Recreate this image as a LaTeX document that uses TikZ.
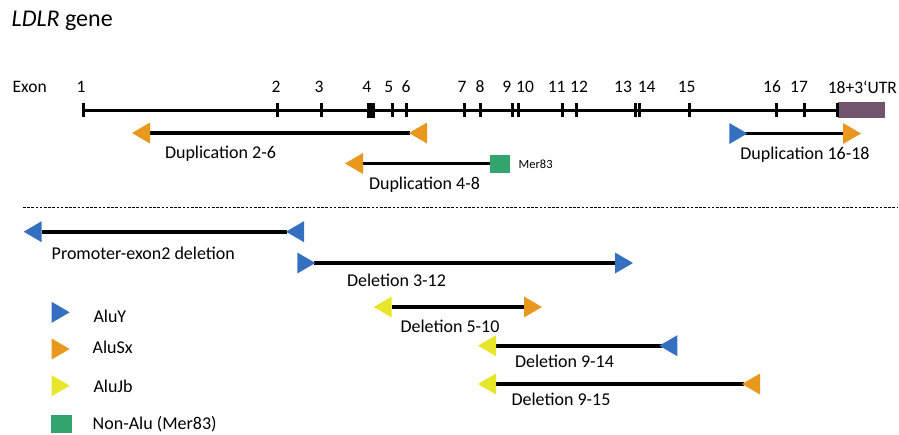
\documentclass[tikz,border=0pt]{standalone}
\usepackage{fontspec}
\setmainfont{Carlito}
\definecolor{aluY}{HTML}{3570C0}
\definecolor{aluSx}{HTML}{E8981C}
\definecolor{aluJb}{HTML}{E8E62A}
\definecolor{mer}{HTML}{34A46E}
\definecolor{utr}{HTML}{73546F}
% filled element triangle: base x, y, direction (+1 right / -1 left), colour
\newcommand\elem[4]{\fill[#4] (#1,#2-10.5) -- ({#1+#3*18},#2) -- (#1,#2+10.5) -- cycle;}
\begin{document}
\begin{tikzpicture}[x=1pt,y=-1pt,
  lbl/.style={font=\fontsize{18}{21}\selectfont, inner sep=0pt},
  exlbl/.style={font=\fontsize{17.5}{21}\selectfont, inner sep=0pt},
  seg/.style={line width=3.6pt},
  gene/.style={line width=3pt},
  exontick/.style={line width=3pt}]
\useasboundingbox (0,0) rectangle (899,434);

% title
\node[anchor=west, inner sep=0pt, font=\fontsize{24}{28}\selectfont] (title) at (11.5,21) {\textit{LDLR} gene};

% gene backbone
\node[exlbl, anchor=west] (exon) at (12.5,87) {Exon};
\coordinate (gs) at (83,110);
\coordinate (ge) at (838,110);
\draw[gene] (gs) -- (ge);
\fill[utr] (838,102) rectangle (885,117.5);
\node[inner sep=0pt, minimum width=47pt, minimum height=15.5pt] (utrbox) at (861.5,109.75) {};

\foreach \x in {83,277.7,321.7,392.2,406.7,464,480.7,512.7,518.7,562.7,576.7,635.3,639.3,689.7,776,804,837.7}
  \draw[exontick] (\x,103) -- (\x,117);
\fill (367.3,102.5) rectangle (375,117.5);

\foreach \x/\t/\n in {81/1/e1,276/2/e2,319/3/e3,366.7/4/e4,388.7/5/e5,406/6/e6,462/7/e7,480/8/e8,
   506.7/9/e9,525/10/e10,556.7/11/e11,579/12/e12,623/13/e13,646.7/14/e14,686.7/15/e15,772/16/e16,799/17/e17}
  \node[exlbl] (\n) at (\x,87) {\t};
\node[exlbl, anchor=east] (e18) at (897,87) {18+3‘UTR};

% duplications
\coordinate (d26a) at (150,133);
\coordinate (d26b) at (410,133);
\draw[seg] (d26a) -- (d26b);
\elem{150}{133}{-1}{aluSx}
\elem{427}{133}{-1}{aluSx}
\node[lbl] (d26) at (220.5,153.5) {Duplication 2-6};

\coordinate (d48a) at (362,163.5);
\coordinate (d48b) at (490,163.5);
\draw[seg] (d48a) -- (d48b);
\elem{363}{163.5}{-1}{aluSx}
\fill[mer] (489.5,155) rectangle (510,172.5);
\node[inner sep=0pt, anchor=west, font=\fontsize{12.5}{15}\selectfont] (mer83) at (518.5,164.5) {Mer83};
\node[lbl] (d48) at (424.5,185) {Duplication 4-8};

\coordinate (d1618a) at (745,133.5);
\coordinate (d1618b) at (844,133.5);
\draw[seg] (d1618a) -- (d1618b);
\elem{729.3}{133.5}{1}{aluY}
\elem{843}{133.5}{1}{aluSx}
\node[lbl] (d1618) at (805,155) {Duplication 16-18};

% separator
\coordinate (sepL) at (23,207);
\coordinate (sepR) at (897,207);
\draw[line width=0.8pt, dash pattern=on 2.6pt off 1.6pt] (sepL) -- (sepR);

% deletions
\coordinate (pd1) at (41.7,231.7);
\coordinate (pd2) at (287,231.7);
\draw[seg] (pd1) -- (pd2);
\elem{41.7}{231.7}{-1}{aluY}
\elem{304}{231.7}{-1}{aluY}
\node[lbl, anchor=west] (pdel) at (51.5,253) {Promoter-exon2 deletion};

\coordinate (d312a) at (314,263);
\coordinate (d312b) at (616,263);
\draw[seg] (d312a) -- (d312b);
\elem{297.3}{263}{1}{aluY}
\elem{615}{263}{1}{aluY}
\node[lbl] (d312) at (396.5,280) {Deletion 3-12};

\coordinate (d510a) at (391.7,307);
\coordinate (d510b) at (525,307);
\draw[seg] (d510a) -- (d510b);
\elem{391.7}{307}{-1}{aluJb}
\elem{524}{307}{1}{aluSx}
\node[lbl] (d510) at (450,326) {Deletion 5-10};

\coordinate (d914a) at (496,345.7);
\coordinate (d914b) at (662,345.7);
\draw[seg] (d914a) -- (d914b);
\elem{496}{345.7}{-1}{aluJb}
\elem{677.3}{345.7}{-1}{aluY}
\node[lbl] (d914) at (564.5,361.5) {Deletion 9-14};

\coordinate (d915a) at (496,384);
\coordinate (d915b) at (744,384);
\draw[seg] (d915a) -- (d915b);
\elem{496}{384}{-1}{aluJb}
\elem{760}{384}{-1}{aluSx}
\node[lbl] (d915) at (561,399.5) {Deletion 9-15};

% legend
\elem{51.7}{312.3}{1}{aluY}
\node[lbl, anchor=west] (lgY) at (93.3,316) {AluY};
\elem{51.7}{349}{1}{aluSx}
\node[lbl, anchor=west] (lgSx) at (92.5,347) {AluSx};
\elem{51.7}{385.7}{1}{aluJb}
\node[lbl, anchor=west] (lgJb) at (93.3,386) {AluJb};
\fill[mer] (51,415) rectangle (71.7,432.7);
\node[lbl, anchor=west] (lgM) at (92.5,424) {Non-Alu (Mer83)};
\end{tikzpicture}
\end{document}
